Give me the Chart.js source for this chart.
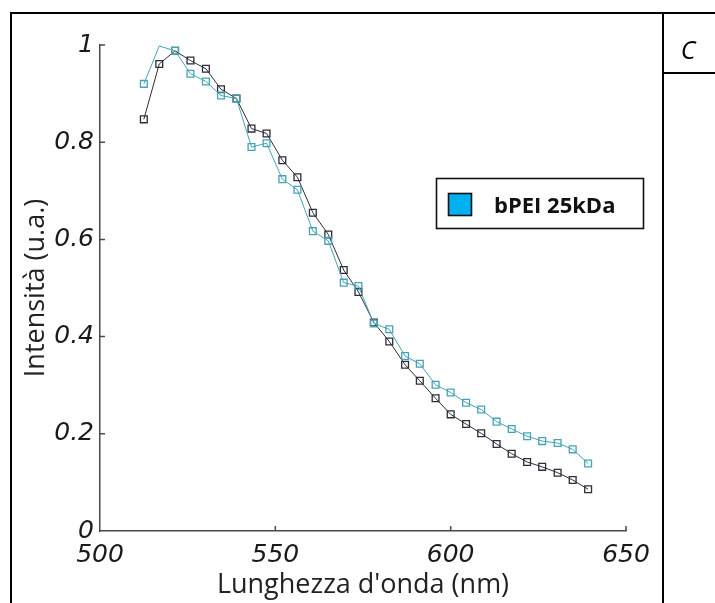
<!DOCTYPE html>
<html>
<head>
<meta charset="utf-8">
<script src="https://cdn.jsdelivr.net/npm/chart.js@4.4.1/dist/chart.umd.min.js"></script>
<style>
  html, body { margin:0; padding:0; background:#fff; }
  #wrap { position:relative; width:715px; height:603px; overflow:hidden; background:#fff; }
  #c { position:absolute; left:0; top:0; }
  .ln { position:absolute; background:#000; }
  #panel { position:absolute; left:676px; top:32px; width:24px; height:34px; line-height:34px;
           font-family:"Open Sans", sans-serif; font-style:italic; font-size:25px; color:#000;
           text-align:center; }
</style>
</head>
<body>
<div id="wrap">
  <canvas id="c" width="715" height="603"></canvas>
  <div class="ln" style="left:10px;top:12px;width:654px;height:2px"></div>
  <div class="ln" style="left:10px;top:12px;width:2px;height:600px"></div>
  <div class="ln" style="left:662px;top:12px;width:2px;height:600px"></div>
  <div class="ln" style="left:662px;top:12px;width:60px;height:2px"></div>
  <div class="ln" style="left:662px;top:72px;width:60px;height:2px"></div>
  <div id="panel">C</div>
</div>
<script>
// ---- data ----
const wavelengths = [512.5, 516.9, 521.4, 525.8, 530.2, 534.5, 538.9, 543.2, 547.5, 552.0,
                     556.3, 560.7, 565.1, 569.5, 573.7, 578.1, 582.5, 587.0, 591.2, 595.7,
                     600.0, 604.4, 608.7, 613.1, 617.4, 621.8, 626.1, 630.5, 634.8, 639.2];
const intensityDark = [0.847, 0.961, 0.988, 0.968, 0.951, 0.909, 0.890, 0.828, 0.818, 0.763,
                       0.728, 0.655, 0.610, 0.537, 0.492, 0.429, 0.390, 0.342, 0.309, 0.273,
                       0.240, 0.220, 0.201, 0.179, 0.159, 0.142, 0.132, 0.120, 0.105, 0.086];
const intensityTeal = [0.920, 0.998, 0.988, 0.941, 0.925, 0.896, 0.890, 0.790, 0.798, 0.724,
                       0.702, 0.617, 0.597, 0.511, 0.504, 0.427, 0.415, 0.360, 0.344, 0.301,
                       0.285, 0.264, 0.250, 0.225, 0.210, 0.195, 0.185, 0.181, 0.168, 0.139];
const xTicks = [500, 550, 600, 650];
const yTicks = [0, 0.2, 0.4, 0.6, 0.8, 1];
const yTickLabels = ['0', '0.2', '0.4', '0.6', '0.8', '1'];
const xTitle = "Lunghezza d'onda (nm)";
const yTitle = "Intensità (u.a.)";
const legendLabel = "bPEI 25kDa";

const toPts = ys => ys.map((y, i) => ({x: wavelengths[i], y}));

const axisColor = '#4a4a4a';
const tickFont = {family: 'DejaVu Sans', style: 'italic', size: 25};
const titleFont = {family: 'Open Sans', size: 27};

const inwardTicks = {
  id: 'inwardTicks',
  afterDraw(chart) {
    const {ctx, chartArea, scales} = chart;
    ctx.save();
    ctx.strokeStyle = axisColor;
    ctx.lineWidth = 1.5;
    ctx.beginPath();
    xTicks.forEach(v => {
      if (v === xTicks[0]) return;
      const px = scales.x.getPixelForValue(v);
      ctx.moveTo(px, chartArea.bottom);
      ctx.lineTo(px, chartArea.bottom - 5);
    });
    yTicks.forEach(v => {
      if (v === yTicks[0]) return;
      const py = scales.y.getPixelForValue(v);
      ctx.moveTo(chartArea.left, py);
      ctx.lineTo(chartArea.left + 5, py);
    });
    ctx.stroke();
    ctx.restore();
  }
};

const boxLegend = {
  id: 'boxLegend',
  afterDraw(chart) {
    const ctx = chart.ctx;
    ctx.save();
    ctx.lineWidth = 1.6;
    ctx.strokeStyle = '#111';
    ctx.strokeRect(436.5, 178.5, 207, 50);
    ctx.fillStyle = '#00B0F0';
    ctx.fillRect(448.5, 193.5, 23, 22);
    ctx.strokeRect(448.5, 193.5, 23, 22);
    ctx.fillStyle = '#111';
    ctx.font = 'bold 22px "Open Sans"';
    ctx.textBaseline = 'alphabetic';
    ctx.textAlign = 'left';
    ctx.fillText(legendLabel, 494, 213);
    ctx.restore();
  }
};

new Chart(document.getElementById('c'), {
  type: 'line',
  data: {
    datasets: [
      {
        label: 'teal',
        data: toPts(intensityTeal),
        borderColor: '#45a3b6',
        borderWidth: 1,
        pointStyle: 'rect',
        pointRadius: c => (c.dataIndex === 1 ? 0 : 4.8),
        pointBorderWidth: 1.3,
        pointBackgroundColor: 'rgba(0,0,0,0)',
        pointBorderColor: '#45a3b6',
        tension: 0
      },
      {
        label: 'dark',
        data: toPts(intensityDark),
        borderColor: '#2c2c3a',
        borderWidth: 1,
        pointStyle: 'rect',
        pointRadius: 4.8,
        pointBorderWidth: 1.3,
        pointBackgroundColor: 'rgba(0,0,0,0)',
        pointBorderColor: '#2c2c3a',
        tension: 0
      }
    ]
  },
  options: {
    responsive: false,
    animation: false,
    devicePixelRatio: 1,
    layout: {padding: {top: 45, right: 89, left: 0, bottom: 0}},
    plugins: {legend: {display: false}, tooltip: {enabled: false}},
    scales: {
      x: {
        type: 'linear', position: 'bottom', min: 500, max: 650,
        afterBuildTicks: s => { s.ticks = xTicks.map(v => ({value: v})); },
        ticks: {font: tickFont, color: '#1a1a1a', padding: 9, maxRotation: 0, autoSkip: false,
                callback: v => String(v)},
        grid: {display: false, drawTicks: false},
        border: {display: true, color: axisColor, width: 1.5},
        title: {display: true, text: xTitle, font: titleFont, color: '#222', padding: {top: 0, bottom: 1}},
        afterFit: s => { s.height = 72; }
      },
      y: {
        type: 'linear', position: 'left', min: 0, max: 1,
        afterBuildTicks: s => { s.ticks = yTicks.map(v => ({value: v})); },
        ticks: {font: tickFont, color: '#1a1a1a', padding: 6, autoSkip: false,
                callback: (v, i) => yTickLabels[i]},
        grid: {display: false, drawTicks: false},
        border: {display: true, color: axisColor, width: 1.5},
        title: {display: true, text: yTitle, font: titleFont, color: '#222', padding: {top: 20, bottom: 0}},
        afterFit: s => { s.width = 100; }
      }
    }
  },
  plugins: [inwardTicks, boxLegend]
});
</script>
</body>
</html>
